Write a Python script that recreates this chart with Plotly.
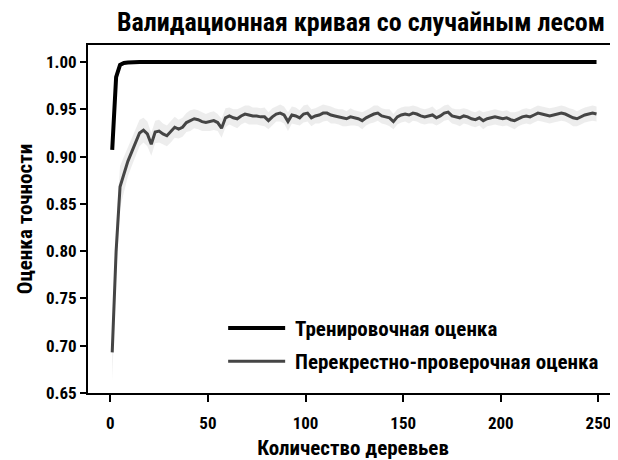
import plotly.graph_objects as go

n_trees = list(range(1, 250, 2))

train_mean = [0.907, 0.984, 0.997, 0.999, 0.9995] + [1.0] * 120

test_mean = [
    0.693, 0.800, 0.868, 0.882, 0.895, 0.905, 0.915, 0.925, 0.928, 0.924,
    0.913, 0.926, 0.927, 0.924, 0.922, 0.926, 0.931, 0.929, 0.931, 0.936,
    0.938, 0.940, 0.939, 0.937, 0.936, 0.937, 0.938, 0.936, 0.930, 0.941,
    0.943, 0.941, 0.940, 0.943, 0.945, 0.944, 0.943, 0.943, 0.942, 0.942,
    0.938, 0.942, 0.945, 0.946, 0.944, 0.937, 0.944, 0.943, 0.941, 0.945,
    0.946, 0.941, 0.943, 0.944, 0.946, 0.946, 0.944, 0.943, 0.942, 0.941,
    0.940, 0.942, 0.941, 0.940, 0.938, 0.941, 0.943, 0.945, 0.946, 0.943,
    0.942, 0.941, 0.937, 0.942, 0.944, 0.945, 0.944, 0.946, 0.945, 0.943,
    0.942, 0.943, 0.944, 0.941, 0.943, 0.946, 0.947, 0.943, 0.942, 0.941,
    0.943, 0.942, 0.940, 0.939, 0.941, 0.938, 0.940, 0.941, 0.942, 0.941,
    0.940, 0.941, 0.939, 0.938, 0.940, 0.942, 0.943, 0.942, 0.944, 0.946,
    0.945, 0.944, 0.943, 0.944, 0.945, 0.946, 0.945, 0.943, 0.941, 0.940,
    0.942, 0.944, 0.945, 0.946, 0.945,
]

test_std = [
    0.030, 0.026, 0.022, 0.018, 0.016, 0.015, 0.014, 0.014, 0.013, 0.013,
    0.012, 0.012, 0.012, 0.011, 0.011, 0.011, 0.011, 0.010, 0.010, 0.010,
    0.011, 0.010, 0.010, 0.010, 0.009, 0.010, 0.010, 0.009, 0.010, 0.010,
    0.009, 0.009, 0.010, 0.009, 0.009, 0.010, 0.009, 0.009, 0.009, 0.010,
    0.009, 0.009, 0.008, 0.009, 0.009, 0.010, 0.009, 0.009, 0.008, 0.009,
    0.009, 0.009, 0.008, 0.009, 0.009, 0.008, 0.009, 0.008, 0.008, 0.009,
    0.008, 0.009, 0.008, 0.008, 0.009, 0.008, 0.008, 0.009, 0.008, 0.008,
    0.008, 0.009, 0.008, 0.008, 0.008, 0.008, 0.009, 0.008, 0.008, 0.008,
    0.008, 0.008, 0.009, 0.008, 0.008, 0.008, 0.008, 0.008, 0.008, 0.009,
    0.008, 0.008, 0.008, 0.008, 0.008, 0.009, 0.008, 0.008, 0.008, 0.008,
    0.008, 0.008, 0.008, 0.009, 0.008, 0.008, 0.008, 0.008, 0.008, 0.008,
    0.008, 0.008, 0.008, 0.008, 0.008, 0.008, 0.008, 0.008, 0.009, 0.008,
    0.008, 0.008, 0.008, 0.008, 0.008,
]

x_ticks = [0, 50, 100, 150, 200, 250]
y_ticks = [0.65, 0.70, 0.75, 0.80, 0.85, 0.90, 0.95, 1.00]

title_text = "Валидационная кривая со случайным лесом"
x_title = "Количество деревьев"
y_title = "Оценка точности"
train_label = "Тренировочная оценка"
test_label = "Перекрестно-проверочная оценка"

FONT = "Roboto Condensed, Liberation Sans Narrow, Roboto, sans-serif"


def f(size):
    return dict(family=FONT, size=size, color="black", weight="bold")


upper = [m + s for m, s in zip(test_mean, test_std)]
lower = [m - s for m, s in zip(test_mean, test_std)]

fig = go.Figure()
fig.add_trace(go.Scatter(x=n_trees, y=upper, mode="lines", line=dict(width=0),
                         showlegend=False, hoverinfo="skip"))
fig.add_trace(go.Scatter(x=n_trees, y=lower, mode="lines", line=dict(width=0),
                         fill="tonexty", fillcolor="rgba(228,228,228,0.65)",
                         showlegend=False, hoverinfo="skip"))
fig.add_trace(go.Scatter(x=n_trees, y=train_mean, mode="lines", name="\u00a0" + train_label,
                         line=dict(color="black", width=4), legendgroup="a"))
fig.add_trace(go.Scatter(x=n_trees, y=test_mean, mode="lines", name="\u00a0" + test_label,
                         line=dict(color="#454545", width=3), legendgroup="b"))

# page body has an 8px margin; figure is sized/offset to compensate
fig.update_layout(
    width=610, height=452,
    margin=dict(l=80, r=0, t=37, b=67, autoexpand=False),
    paper_bgcolor="white", plot_bgcolor="white",
    font=f(17),
    title=dict(text=title_text, x=353 / 610, xanchor="center", y=1 - 14 / 452,
               yanchor="middle", font=f(26)),
    showlegend=True,
    legend=dict(x=0.255, y=0.245, xanchor="left", yanchor="top", itemwidth=57,
                bgcolor="rgba(0,0,0,0)", tracegroupgap=3, font=f(21)),
    xaxis=dict(range=[-11.4, 260], tickvals=x_ticks, showgrid=False, zeroline=False,
               automargin=False, ticklabelstandoff=7,
               showline=True, linecolor="black", linewidth=2, mirror=True,
               ticks="outside", ticklen=7, tickwidth=2, tickcolor="black",
               title=dict(text=x_title, font=f(21), standoff=18)),
    yaxis=dict(range=[0.65, 1.018], tickvals=y_ticks, tickformat=".2f", showgrid=False,
               automargin=False,
               zeroline=False, showline=True, linecolor="black", linewidth=2,
               ticks="outside", ticklen=6, tickwidth=2, tickcolor="black",
               title=dict(text=y_title, font=f(21), standoff=8)),
)

fig.write_html("out.html")
